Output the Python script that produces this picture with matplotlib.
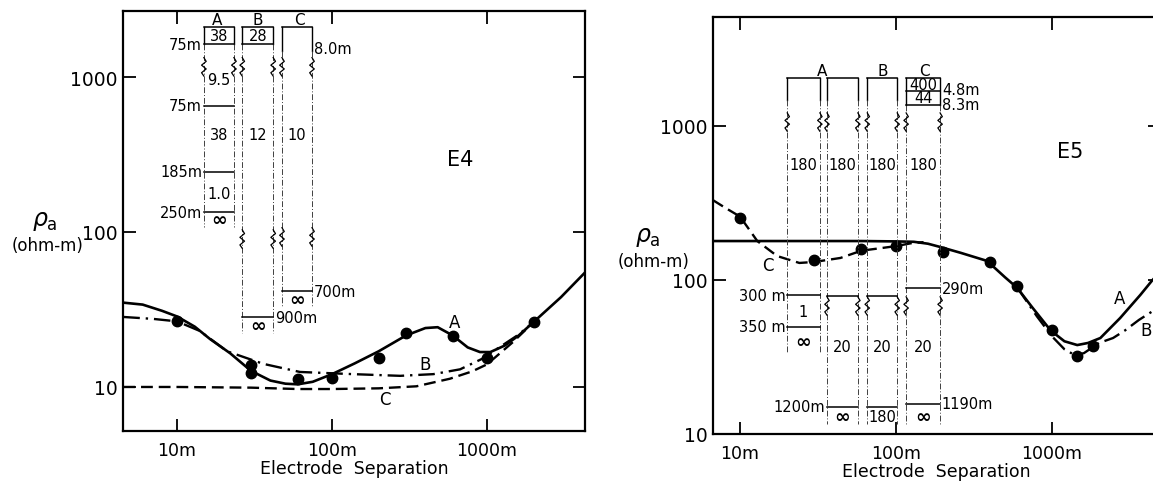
import matplotlib.pyplot as plt
import numpy as np
from matplotlib.ticker import NullLocator

plt.rcParams['font.family'] = ['DejaVu Sans']

# ---- sounding E4 (electrode separation in m, apparent resistivity in ohm-m)
e4_sep = [10, 30, 30, 60, 100, 200, 300, 600, 1000, 2000]
e4_rho = [26.7, 13.8, 12.3, 11.3, 11.4, 15.4, 22.3, 21.3, 15.4, 26.3]

e4_a_sep = [4.5, 6, 8, 10, 13, 16.3, 22, 30, 40, 50, 60, 75, 100, 140, 200, 300,
            400, 480, 600, 750, 900, 1050, 1300, 1600, 2000, 3000, 4300]
e4_a_rho = [35, 34, 31, 28.5, 24.5, 20.4, 16.5, 12.7, 11, 10.5, 10.4, 10.8, 12.1,
            14.2, 17, 21.5, 24, 24.3, 21.5, 18, 16.8, 16.8, 18.5, 21.5, 26.3, 38, 55]
e4_b_sep = [4.5, 7, 10, 14, 21, 36, 62, 137, 275, 450, 670, 930, 1300, 1600, 2000]
e4_b_rho = [28.3, 27.5, 26.5, 23, 17, 14.1, 12.5, 12.1, 11.8, 12.1, 13, 15.2, 19, 21.8, 26.3]
e4_c_sep = [4.5, 10, 30, 60, 100, 200, 350, 575, 800, 1000, 1470, 2000]
e4_c_rho = [10, 10, 9.9, 9.7, 9.7, 9.8, 10.1, 11.3, 12.6, 14, 19.5, 26.3]

# ---- sounding E5
e5_sep = [10, 30, 60, 100, 200, 400, 600, 1000, 1450, 1830]
e5_rho = [253, 135, 159, 166, 152, 131, 91.5, 47.4, 32.1, 37.3]

e5_a_sep = [6.7, 20, 60, 100, 130, 160, 191, 260, 383, 500, 597, 750, 980, 1200,
            1450, 1700, 2040, 2730, 3680, 4370, 5000]
e5_a_rho = [179, 179, 179, 178, 177, 172, 164, 150, 133, 104, 89, 66, 47, 40,
            37.8, 39, 42, 56.6, 80, 99, 115]
e5_b_sep = [600, 800, 1000, 1200, 1400, 1600, 2000, 2460, 2930, 3600, 4440, 5000]
e5_b_rho = [89, 58, 43, 35.5, 32.5, 33.5, 39, 42, 47, 55, 63, 68]
e5_c_sep = [6.7, 8, 10, 12.9, 17.3, 24, 30, 44, 60, 80, 100, 128, 150]
e5_c_rho = [330, 295, 258, 179, 143, 129, 131, 139, 155, 161, 166, 174, 176]

# ---- layered-earth models drawn as columns (axes-fraction layout)
e4_columns = [
    dict(label='A', lx=0.203, x=(0.175, 0.240), top=0.962, bottom=0.486, solid=0.921,
         lines=[0.921, 0.774, 0.617, 0.521], breaks=[0.867],
         texts=[(0.941, '38'), (0.838, '9.5'), (0.707, '38'), (0.566, '1.0'), (0.503, '∞')],
         left=[(0.921, '75m'), (0.774, '75m'), (0.617, '185m'), (0.521, '250m')], right=[]),
    dict(label='B', lx=0.292, x=(0.258, 0.325), top=0.962, bottom=0.233, solid=0.921,
         lines=[0.921, 0.271], breaks=[0.867, 0.457],
         texts=[(0.941, '28'), (0.707, '12'), (0.250, '∞')],
         left=[], right=[(0.271, '900m')]),
    dict(label='C', lx=0.381, x=(0.344, 0.409), top=0.962, bottom=0.295, solid=0.905,
         lines=[0.333], breaks=[0.867, 0.462],
         texts=[(0.707, '10'), (0.314, '∞')],
         left=[], right=[(0.910, '8.0m'), (0.333, '700m')]),
]

e5_columns = [
    dict(label='A', lx=0.244, x=(0.166, 0.239), top=0.854, bottom=0.197, solid=0.80,
         lines=[0.333, 0.257], breaks=[0.748],
         texts=[(0.647, '180'), (0.293, '1'), (0.223, '∞')],
         left=[(0.333, '300 m'), (0.257, '350 m')], right=[]),
    dict(label='', lx=0.29, x=(0.255, 0.324), top=0.854, bottom=0.024, solid=0.80,
         lines=[0.331, 0.065], breaks=[0.748, 0.307],
         texts=[(0.647, '180'), (0.209, '20'), (0.041, '∞')],
         left=[(0.065, '1200m')], right=[]),
    dict(label='B', lx=0.380, x=(0.345, 0.412), top=0.854, bottom=0.024, solid=0.80,
         lines=[0.331, 0.065], breaks=[0.748, 0.307],
         texts=[(0.647, '180'), (0.209, '20'), (0.041, '180')],
         left=[], right=[]),
    dict(label='C', lx=0.472, x=(0.432, 0.508), top=0.854, bottom=0.024, solid=0.789,
         lines=[0.823, 0.789, 0.350, 0.072], breaks=[0.748, 0.307],
         texts=[(0.838, '400'), (0.806, '44'), (0.647, '180'), (0.209, '20'), (0.041, '∞')],
         left=[], right=[(0.827, '4.8m'), (0.789, '8.3m'), (0.350, '290m'), (0.072, '1190m')]),
]

thin = dict(color='0.25', lw=0.7, linestyle=(0, (6, 2, 1, 2)))


def zigzag(ax, x, y):
    dy = np.array([0.022, 0.013, 0.004, -0.005, -0.014, -0.022])
    dx = np.array([0, 0.005, -0.005, 0.005, -0.005, 0])
    ax.plot(x + dx, y + dy, color='k', lw=0.9, transform=ax.transAxes, clip_on=False)


def draw_columns(ax, columns, fs=10.5):
    T = ax.transAxes
    for c in columns:
        x0, x1 = c['x']
        ax.plot([x0, x1], [c['top'], c['top']], color='k', lw=1.1, transform=T)
        for xe in (x0, x1):
            ax.plot([xe, xe], [c['top'], c['solid']], color='k', lw=1.0, transform=T)
            ax.plot([xe, xe], [c['solid'], c['bottom']], transform=T, **thin)
            for yb in c['breaks']:
                zigzag(ax, xe, yb)
        for yl in c['lines']:
            ax.plot([x0, x1], [yl, yl], color='k', lw=1.1, transform=T)
        for yt, s in c['texts']:
            big = s == '∞'
            ax.text((x0 + x1) / 2, yt, s, transform=T, ha='center', va='center',
                    fontsize=fs + 3 if big else fs, fontweight='bold' if big else 'normal')
        for yt, s in c['left']:
            ax.text(x0 - 0.004, yt, s, transform=T, ha='right', va='center', fontsize=fs)
        for yt, s in c['right']:
            ax.text(x1 + 0.004, yt, s, transform=T, ha='left', va='center', fontsize=fs)
        if c['label']:
            ax.text(c['lx'], c['top'] + 0.018, c['label'], transform=T, ha='center',
                    va='center', fontsize=fs + 0.5)


def style_axes(ax, xlim, ylim):
    ax.set_xscale('log')
    ax.set_yscale('log')
    ax.set_xlim(*xlim)
    ax.set_ylim(*ylim)
    ax.set_xticks([10, 100, 1000])
    ax.set_xticklabels(['10m', '100m', '1000m'])
    ax.set_yticks([10, 100, 1000])
    ax.set_yticklabels(['10', '100', '1000'])
    ax.xaxis.set_minor_locator(NullLocator())
    ax.yaxis.set_minor_locator(NullLocator())
    ax.tick_params(direction='in', length=9, width=1.3, top=True, right=True)
    ax.tick_params(axis='x', pad=7, labelsize=12.5)
    ax.tick_params(axis='y', pad=4, labelsize=13.5)
    for sp in ax.spines.values():
        sp.set_linewidth(1.6)
    ax.set_xlabel('Electrode  Separation', fontsize=12.5, labelpad=0.5)


fig = plt.figure(figsize=(11.53, 4.85), dpi=100)

dash = (0, (5, 2.5))
dashdot = (0, (7, 2.5, 1, 2.5))

# E4
ax1 = fig.add_axes([0.1067, 0.1093, 0.4007, 0.866])
style_axes(ax1, (4.48, 4285), (5.2, 2667))
ax1.plot(e4_a_sep, e4_a_rho, color='k', lw=1.9)
ax1.plot(e4_b_sep, e4_b_rho, color='k', lw=1.7, linestyle=dashdot)
ax1.plot(e4_c_sep, e4_c_rho, color='k', lw=1.7, linestyle=dash)
ax1.plot(e4_sep, e4_rho, 'o', color='k', ms=7.5)
ax1.text(620, 26.3, 'A', fontsize=12, ha='center', va='center')
ax1.text(398, 14.1, 'B', fontsize=12, ha='center', va='center')
ax1.text(219, 8.4, 'C', fontsize=12, ha='center', va='center')
ax1.text(0.729, 0.648, 'E4', transform=ax1.transAxes, fontsize=15, ha='center', va='center')
draw_columns(ax1, e4_columns)

# E5
ax2 = fig.add_axes([0.6184, 0.1031, 0.3877, 0.8598])
style_axes(ax2, (6.71, 4920), (10, 5100))
ax2.spines['right'].set_visible(False)
ax2.plot(e5_a_sep, e5_a_rho, color='k', lw=1.9)
ax2.plot(e5_b_sep, e5_b_rho, color='k', lw=1.7, linestyle=dashdot)
ax2.plot(e5_c_sep, e5_c_rho, color='k', lw=1.7, linestyle=dash)
ax2.plot(e5_sep, e5_rho, 'o', color='k', ms=7.5)
ax2.text(2930, 76, 'A', fontsize=12, ha='right', va='center')
ax2.text(3680, 47.3, 'B', fontsize=12, ha='left', va='center')
ax2.text(15.1, 125, 'C', fontsize=12, ha='center', va='center')
ax2.text(0.799, 0.679, 'E5', transform=ax2.transAxes, fontsize=15, ha='center', va='center')
draw_columns(ax2, e5_columns)

# y-axis captions
for xr, yr, xo, yo in [(0.039, 0.545, 0.041, 0.493), (0.562, 0.512, 0.567, 0.460)]:
    fig.text(xr, yr, r'$\rho_{\mathrm{a}}$', fontsize=17, ha='center', va='center')
    fig.text(xo, yo, '(ohm-m)', fontsize=12, ha='center', va='center')

fig.savefig('out.png', dpi=100)
